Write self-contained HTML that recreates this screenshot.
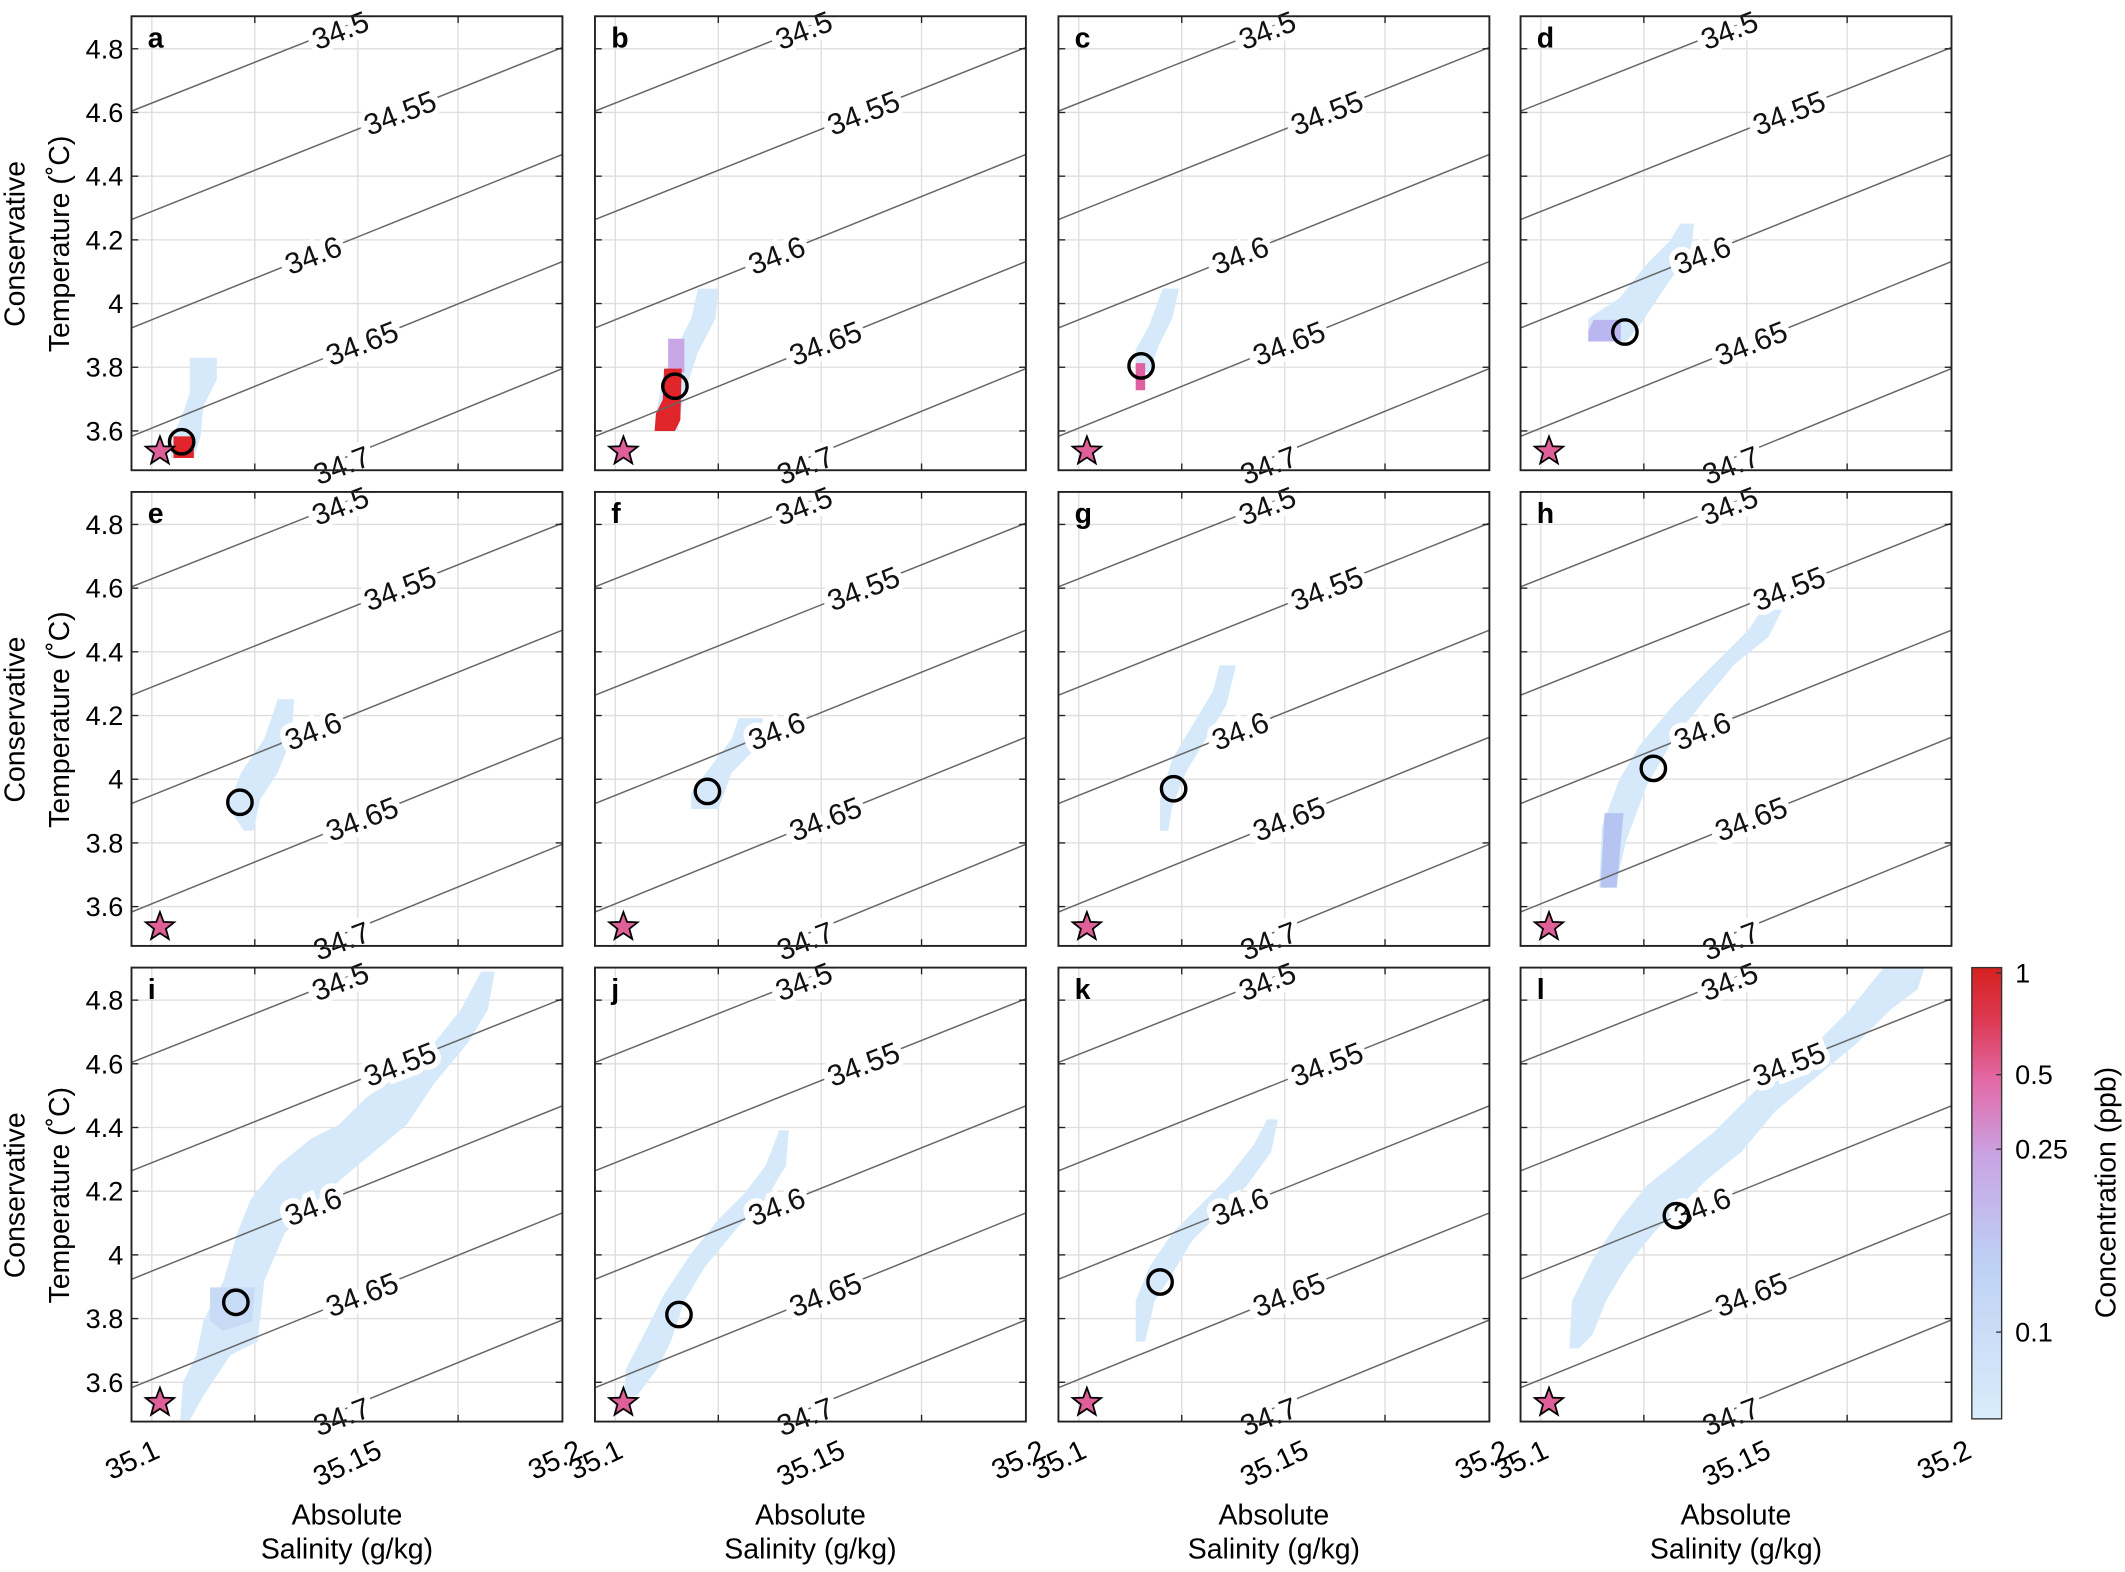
<!DOCTYPE html>
<html><head><meta charset="utf-8"><style>
html,body{margin:0;padding:0;background:#fff}
svg{display:block}
text{font-family:"Liberation Sans",sans-serif}
</style></head><body>
<svg id="s" width="2125" height="1572" viewBox="0 0 1568 1160" xmlns="http://www.w3.org/2000/svg">
<defs>
<linearGradient id="cb" x1="0" y1="0" x2="0" y2="1">
<stop offset="0" stop-color="#d6201f"/>
<stop offset="0.12" stop-color="#dd3a55"/>
<stop offset="0.25" stop-color="#e26aa6"/>
<stop offset="0.42" stop-color="#c9a4e4"/>
<stop offset="0.65" stop-color="#bdd0f4"/>
<stop offset="1" stop-color="#d9edfb"/>
</linearGradient>
</defs>
<g id="g"></g>
</svg>
<script>
var g=document.getElementById('g'),h='';
var OX=[97,439,781,1122],OY=[12,363,714],W=318,H=335;
var L='#d5e9fa';
var blobs=[
[["140,264 160,264 160,280 150,300 148,322 143,338 126,338 126,325 135,305 140,290",L],["128,322 143,322 143,338 128,338","#e0262a"]],
[["515,213 530,213 528,235 515,260 505,290 500,318 483,318 485,300 490,275 500,255 510,235",L],["493,250 505,250 505,275 493,275","#c9a6e6"],["490,272 503,272 502,310 498,318 483,318 484,305 489,295","#e0262a"]],
[["858,213 870,213 865,235 855,255 848,275 838,275 838,258 848,240",L],["838,268 845,268 845,288 838,288","#e060a0"]],
[["1240,165 1250,165 1248,185 1230,210 1210,240 1200,252 1172,252 1172,235 1195,220 1215,195 1232,178",L],["1176,236 1196,236 1196,252 1172,252 1172,244","#b9b6f0"]],
[["205,516 217,516 215,545 205,570 192,590 187,613 180,613 168,595 178,570 195,545",L]],
[["545,530 563,530 560,550 540,570 530,597 510,597 510,585 525,565 540,545",L]],
[["900,491 912,491 905,520 890,545 875,570 865,595 862,613 856,613 856,590 865,560 880,535 895,510",L]],
[["1300,450 1315,450 1305,470 1280,490 1255,520 1235,545 1215,580 1200,620 1192,655 1180,655 1182,610 1195,575 1210,550 1235,520 1265,490 1290,465",L],["1184,600 1198,600 1193,655 1181,655","#b6c4f2"]],
[["355,717 365,717 360,745 345,770 320,800 300,830 270,855 240,880 210,910 195,945 190,990 170,1000 150,1030 140,1048 133,1048 135,1020 145,1000 150,975 165,945 175,910 185,885 205,860 230,840 250,830 270,810 300,790 320,770 340,745",L],["155,950 188,950 186,975 165,982 155,975","#c7daf6"]],
[["575,834 582,834 580,860 565,885 545,905 520,935 505,960 495,990 485,1010 470,1030 460,1030 462,1010 475,985 490,955 510,925 530,900 550,880 565,860",L]],
[["935,826 943,826 938,850 920,875 900,895 880,915 865,940 852,960 845,990 838,990 838,960 848,935 865,910 885,890 905,870 925,845",L]],
[["1390,714 1420,714 1415,730 1395,745 1370,770 1340,795 1310,820 1285,850 1260,870 1240,890 1220,910 1200,935 1185,960 1175,985 1165,995 1158,995 1160,960 1175,930 1195,900 1215,875 1240,855 1265,835 1290,810 1310,790 1340,770 1365,745",L]]
];
var circ=[[134,326],[498,285],[842,270],[1199,245],[177,592],[522,584],[866,582],[1220,567],[174,961],[501,970],[856,946],[1237,897]];
var letters='abcdefghijkl';
var yt=[[4.8,24],[4.6,71],[4.4,118],[4.2,165],[4,212],[3.8,259],[3.6,306]];
var gx=[15,91,167,241];
var labs=[['34.5',154,10],['34.55',198,71],['34.6',134,176],['34.65',170,241],['34.7',155,331]];
function star(cx,cy,R){var r=R*0.42,p=[];for(var i=0;i<10;i++){var a=-Math.PI/2+i*Math.PI/5,rr=i%2?r:R;p.push((cx+rr*Math.cos(a)).toFixed(1)+','+(cy+rr*Math.sin(a)).toFixed(1));}return '<polygon points="'+p.join(' ')+'" fill="#df5f98" stroke="#000" stroke-width="1.3"/>';}
for(var r=0;r<3;r++)for(var c=0;c<4;c++){
 var i=r*4+c,x=OX[c],y=OY[r];
 h+='<clipPath id="c'+i+'"><rect x="'+x+'" y="'+y+'" width="'+W+'" height="'+H+'"/></clipPath>';
 h+='<rect x="'+x+'" y="'+y+'" width="'+W+'" height="'+H+'" fill="#fff"/>';
 h+='<g clip-path="url(#c'+i+')">';
 gx.forEach(function(v){h+='<line x1="'+(x+v)+'" y1="'+y+'" x2="'+(x+v)+'" y2="'+(y+H)+'" stroke="#dedede" stroke-width="1"/>';});
 yt.forEach(function(t){h+='<line x1="'+x+'" y1="'+(y+t[1])+'" x2="'+(x+W)+'" y2="'+(y+t[1])+'" stroke="#dedede" stroke-width="1"/>';});
 blobs[i].forEach(function(b){h+='<polygon points="'+b[0]+'" fill="'+b[1]+'"/>';});
 for(var k=0;k<5;k++){h+='<line x1="'+x+'" y1="'+(y+70+80*k)+'" x2="'+(x+W)+'" y2="'+(y-56+79*k)+'" stroke="#666" stroke-width="1.1"/>';}
 h+='</g>';
 labs.forEach(function(l){h+='<text x="'+(x+l[1])+'" y="'+(y+l[2]+8)+'" font-size="22" text-anchor="middle" transform="rotate(-21 '+(x+l[1])+' '+(y+l[2])+')" stroke="#fff" stroke-width="8" paint-order="stroke" fill="#111">'+l[0]+'</text>';});
 h+='<circle cx="'+circ[i][0]+'" cy="'+circ[i][1]+'" r="9" fill="none" stroke="#000" stroke-width="2.5"/>';
 h+=star(x+21,y+321,11);
 h+='<rect x="'+x+'" y="'+y+'" width="'+W+'" height="'+H+'" fill="none" stroke="#222" stroke-width="1.4"/>';
 yt.forEach(function(t){h+='<line x1="'+x+'" y1="'+(y+t[1])+'" x2="'+(x+5)+'" y2="'+(y+t[1])+'" stroke="#222"/><line x1="'+(x+W-5)+'" y1="'+(y+t[1])+'" x2="'+(x+W)+'" y2="'+(y+t[1])+'" stroke="#222"/>';});
 [91,241].forEach(function(v){h+='<line x1="'+(x+v)+'" y1="'+(y+H)+'" x2="'+(x+v)+'" y2="'+(y+H-5)+'" stroke="#222"/><line x1="'+(x+v)+'" y1="'+y+'" x2="'+(x+v)+'" y2="'+(y+5)+'" stroke="#222"/>';});
 h+='<text x="'+(x+12)+'" y="'+(y+23)+'" font-size="21" font-weight="bold">'+letters[i]+'</text>';
 if(c==0){
  yt.forEach(function(t){h+='<text x="'+(x-6)+'" y="'+(y+t[1]+7)+'" font-size="20" text-anchor="end">'+t[0]+'</text>';});
  h+='<text transform="translate(18,'+(y+168)+') rotate(-90)" font-size="21" text-anchor="middle">Conservative</text>';
  h+='<text transform="translate(51,'+(y+168)+') rotate(-90)" font-size="21" text-anchor="middle">Temperature (˚C)</text>';
 }
 if(r==2){
  [['35.1',22],['35.15',186],['35.2',334]].forEach(function(t){var tx=x+t[1],ty=y+H+26;h+='<text x="'+tx+'" y="'+ty+'" font-size="21" text-anchor="end" transform="rotate(-25 '+tx+' '+ty+')">'+t[0]+'</text>';});
  h+='<text x="'+(x+159)+'" y="1125" font-size="21" text-anchor="middle">Absolute</text>';
  h+='<text x="'+(x+159)+'" y="1150" font-size="21" text-anchor="middle">Salinity (g/kg)</text>';
 }
}
h+='<rect x="1455" y="714" width="22" height="333" fill="url(#cb)" stroke="#333" stroke-width="1"/>';
[['1',722],['0.5',797],['0.25',852],['0.1',987]].forEach(function(t){h+='<line x1="1473" y1="'+(t[1]-4)+'" x2="1477" y2="'+(t[1]-4)+'" stroke="#333"/><text x="1487" y="'+(t[1]+3)+'" font-size="20">'+t[0]+'</text>';});
h+='<text transform="translate(1561,880) rotate(-90)" font-size="21" text-anchor="middle">Concentration (ppb)</text>';
g.innerHTML=h;
</script>
</body></html>
